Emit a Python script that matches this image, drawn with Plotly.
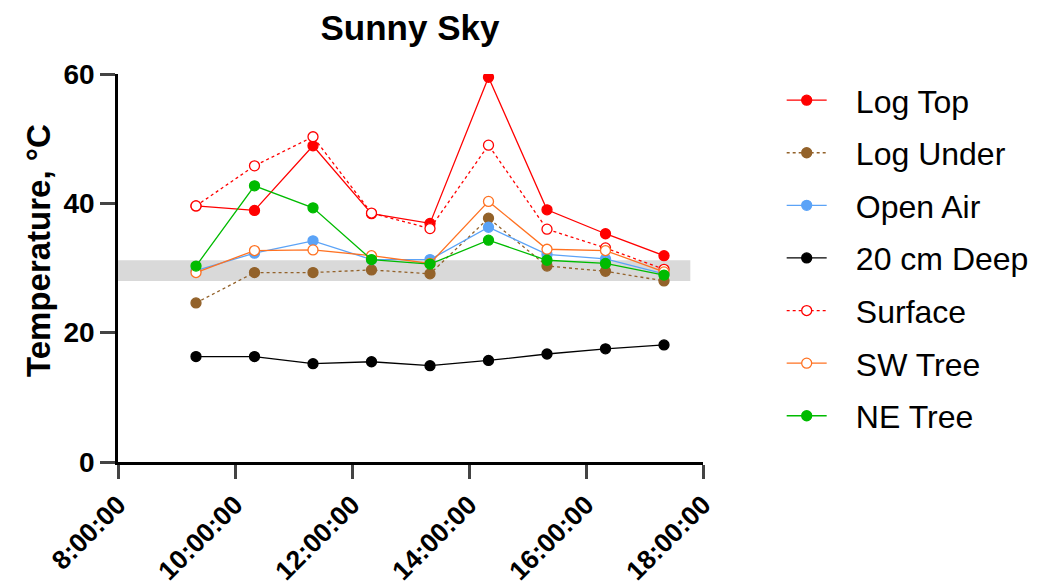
import plotly.graph_objects as go

times = ["2020-01-01 09:20", "2020-01-01 10:20", "2020-01-01 11:20", "2020-01-01 12:20",
         "2020-01-01 13:20", "2020-01-01 14:20", "2020-01-01 15:20", "2020-01-01 16:20",
         "2020-01-01 17:20"]

log_top = [39.6, 38.9, 48.9, 38.4, 36.9, 59.5, 39.0, 35.3, 31.9]
log_under = [24.6, 29.3, 29.3, 29.7, 29.1, 37.7, 30.3, 29.5, 28.0]
open_air = [29.6, 32.3, 34.2, 31.3, 31.3, 36.3, 32.1, 31.4, 29.1]
deep_20cm = [16.3, 16.3, 15.2, 15.5, 14.9, 15.7, 16.7, 17.5, 18.1]
surface = [39.6, 45.8, 50.3, 38.5, 36.1, 49.0, 36.0, 33.1, 29.8]
sw_tree = [29.3, 32.7, 32.8, 31.9, 30.7, 40.3, 32.9, 32.7, 29.4]
ne_tree = [30.3, 42.7, 39.3, 31.3, 30.6, 34.3, 31.2, 30.7, 28.9]

band_low, band_high = 28.0, 31.2
band_start, band_end = "2020-01-01 07:56", "2020-01-01 17:47"

series = [
    ("Log Top", log_top, "#FF0000", "solid", False),
    ("Log Under", log_under, "#93622A", "dot", False),
    ("Open Air", open_air, "#5BA3F7", "solid", False),
    ("20 cm Deep", deep_20cm, "#000000", "solid", False),
    ("Surface", surface, "#FF0000", "dot", True),
    ("SW Tree", sw_tree, "#FF7222", "solid", True),
    ("NE Tree", ne_tree, "#00BB00", "solid", False),
]

fig = go.Figure()
for i, (name, vals, col, dash, hollow) in enumerate(series):
    fig.add_trace(go.Scatter(
        x=times, y=vals, name="\u00a0\u00a0\u2009" + name, mode="lines+markers",
        legendgroup=f"g{i}",
        line=dict(color=col, width=1.3, dash=dash),
        marker=dict(size=10, color="white" if hollow else col, symbol="circle",
                    line=dict(color=col, width=1.3)),
    ))

fig.add_shape(type="rect", xref="x", yref="y", x0=band_start, x1=band_end,
              y0=band_low, y1=band_high, fillcolor="#D9D9D9", line_width=0, layer="below")

fig.add_annotation(text="<b>Temperature, °C</b>", xref="paper", yref="paper",
                   x=(38 - 118) / 585, y=(462 - 250) / 388, xanchor="center", yanchor="middle",
                   textangle=-90, showarrow=False, font=dict(size=33))

fig.update_layout(
    width=1041, height=588,
    margin=dict(l=118, r=338, t=74, b=126, autoexpand=False),
    paper_bgcolor="white", plot_bgcolor="white",
    font=dict(family="Liberation Sans, Arial", color="black"),
    title=dict(text="<b>Sunny Sky</b>", x=410 / 1041, xanchor="center",
               y=1 - 28 / 588, yanchor="middle", font=dict(size=35)),
    showlegend=True,
    legend=dict(x=1.1345, xanchor="left", y=1.003, yanchor="top",
                font=dict(size=32), tracegroupgap=8, itemwidth=40,
                maxheight=1000, bgcolor="rgba(0,0,0,0)"),
    xaxis=dict(range=["2020-01-01 08:00", "2020-01-01 18:00"], type="date",
               tickformat="%-H:%M:%S", dtick=7200000, tick0="2020-01-01 08:00",
               tickangle=-45, ticks="outside", ticklen=14, tickwidth=2.5,
               showline=True, linewidth=2.5, linecolor="black", showgrid=False,
               zeroline=False, tickfont=dict(size=26.5), automargin=False,
               tickprefix="<b>", ticksuffix="</b>"),
    yaxis=dict(range=[0, 60], dtick=20, ticks="outside", ticklen=15, tickwidth=2.5,
               showline=True, linewidth=2.5, linecolor="black", showgrid=False,
               zeroline=False, tickfont=dict(size=28), tickprefix="<b>", ticksuffix="</b>",
               automargin=False),
)

fig.write_html("out.html")
